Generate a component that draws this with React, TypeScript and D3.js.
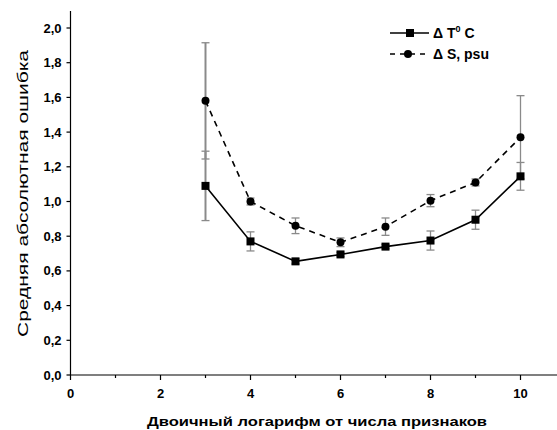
import React from "react";
import * as d3 from "d3";

const xValues = [3, 4, 5, 6, 7, 8, 9, 10];
const tMean = [1.09, 0.77, 0.655, 0.695, 0.74, 0.775, 0.895, 1.145];
const tErr = [0.2, 0.055, 0.015, 0.012, 0.012, 0.055, 0.055, 0.08];
const sMean = [1.58, 1.0, 0.86, 0.765, 0.855, 1.005, 1.11, 1.37];
const sErr = [0.335, 0.02, 0.045, 0.025, 0.05, 0.035, 0.02, 0.24];
const yTicks = [0, 0.2, 0.4, 0.6, 0.8, 1.0, 1.2, 1.4, 1.6, 1.8, 2.0];
const xMajor = [0, 2, 4, 6, 8, 10];
const xMinor = [1, 3, 5, 7, 9];
const legendLabels = ["Δ T", "Δ S, psu"];

const W = 557;
const H = 430;
const x = d3.scaleLinear().domain([0, 10.85]).range([70.5, 70.5 + 45 * 10.85]);
const y = d3.scaleLinear().domain([0, 2.0]).range([375, 28]);
const FONT = "Liberation Sans, Arial, sans-serif";

export default function App() {
  const line = d3
    .line<number>()
    .x((_, i) => x(xValues[i]))
    .y((d) => y(d));
  const fmt = (v: number) => v.toFixed(1).replace(".", ",");
  const errBars = (means: number[], errs: number[], key: string) =>
    means.map((m, i) => {
      const cx = x(xValues[i]);
      const y1 = y(m + errs[i]);
      const y2 = y(m - errs[i]);
      const w = i === 0 ? 2 : 1.3;
      return (
        <g key={key + i} stroke="#8a8a8a" strokeWidth={w}>
          <line x1={cx} x2={cx} y1={y1} y2={y2} />
          <line x1={cx - 4} x2={cx + 4} y1={y1} y2={y1} strokeWidth={1.3} />
          <line x1={cx - 4} x2={cx + 4} y1={y2} y2={y2} strokeWidth={1.3} />
        </g>
      );
    });
  return (
    <div style={{ position: "absolute", left: 0, top: 0 }}>
      <svg width={W} height={H} style={{ display: "block", background: "#fff" }}>
        {/* axes */}
        <line x1={x(0)} x2={x(0)} y1={11} y2={y(0)} stroke="#000" strokeWidth={1.2} />
        <line x1={x(0)} x2={W} y1={y(0)} y2={y(0)} stroke="#000" strokeWidth={1.2} />
        {yTicks.map((t) => (
          <g key={"yt" + t}>
            <line x1={x(0) - 4} x2={x(0)} y1={y(t)} y2={y(t)} stroke="#000" strokeWidth={1.2} />
            <text
              x={x(0) - 9}
              y={y(t)}
              dy="0.35em"
              textAnchor="end"
              fontFamily={FONT}
              fontWeight="bold"
              fontSize={13}
            >
              {fmt(t)}
            </text>
          </g>
        ))}
        {xMajor.map((t) => (
          <g key={"xt" + t}>
            <line x1={x(t)} x2={x(t)} y1={y(0)} y2={y(0) + 5} stroke="#000" strokeWidth={1.2} />
            <text
              x={x(t)}
              y={398}
              textAnchor="middle"
              fontFamily={FONT}
              fontWeight="bold"
              fontSize={13}
            >
              {t}
            </text>
          </g>
        ))}
        {xMinor.map((t) => (
          <line key={"xm" + t} x1={x(t)} x2={x(t)} y1={y(0)} y2={y(0) + 3} stroke="#000" strokeWidth={1.2} />
        ))}
        <text
          x={147}
          y={426}
          fontFamily={FONT}
          fontWeight="bold"
          fontSize={13}
          textLength={340}
          lengthAdjust="spacingAndGlyphs"
        >
          Двоичный логарифм от числа признаков
        </text>
        <text
          transform={`translate(28,337) rotate(-90)`}
          fontFamily={FONT}
          fontSize={14}
          textLength={287}
          lengthAdjust="spacingAndGlyphs"
        >
          Средняя абсолютная ошибка
        </text>

        {/* error bars */}
        {errBars(tMean, tErr, "te")}
        {errBars(sMean, sErr, "se")}

        {/* lines */}
        <path d={line(tMean) || ""} fill="none" stroke="#000" strokeWidth={1.6} />
        <path d={line(sMean) || ""} fill="none" stroke="#000" strokeWidth={1.6} strokeDasharray="6,5" />

        {/* markers */}
        {tMean.map((m, i) => (
          <rect key={"tm" + i} x={x(xValues[i]) - 4} y={y(m) - 4} width={8} height={8} fill="#000" />
        ))}
        {sMean.map((m, i) => (
          <circle key={"sm" + i} cx={x(xValues[i])} cy={y(m)} r={4} fill="#000" />
        ))}

        {/* legend */}
        <line x1={390} x2={429} y1={33} y2={33} stroke="#000" strokeWidth={1.6} />
        <rect x={406} y={29} width={8} height={8} fill="#000" />
        <text x={433} y={38} fontFamily={FONT} fontWeight="bold" fontSize={14}>
          {legendLabels[0]}
          <tspan dy={-6} fontSize={9}>0</tspan>
          <tspan dy={6}> C</tspan>
        </text>
        <line x1={390} x2={429} y1={54} y2={54} stroke="#000" strokeWidth={1.6} strokeDasharray="5,5" />
        <circle cx={408} cy={54} r={4} fill="#000" />
        <text x={433} y={59} fontFamily={FONT} fontWeight="bold" fontSize={14}>
          {legendLabels[1]}
        </text>
      </svg>
    </div>
  );
}
